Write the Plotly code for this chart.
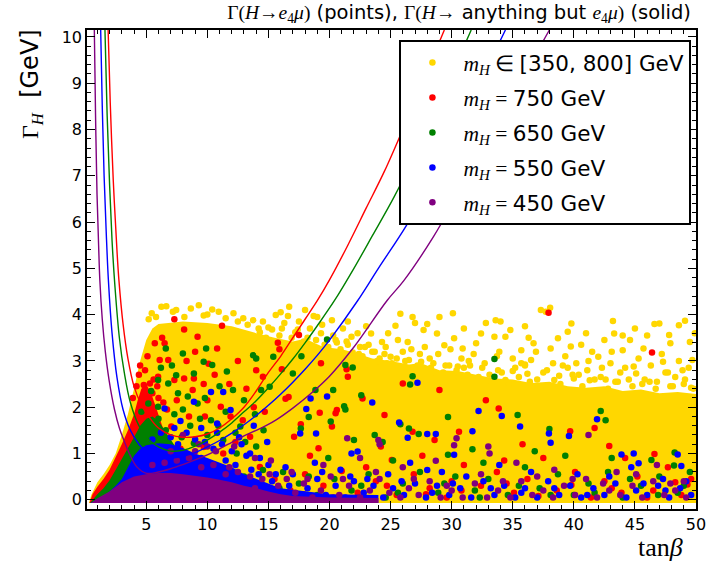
import plotly.graph_objects as go

# ---------------- data (tan(beta), Gamma_H [GeV]) ----------------
CURVE_RED = [(1.88,10.15),(2.05,8.6),(2.3,6.9),(2.6,5.4),(2.76,4.75),(3.1,3.8),(3.5,3.05),(4.0,2.45),
             (4.6,2.05),(5.2,1.8),(6.0,1.55),(7.0,1.4),(8.0,1.35),(9.0,1.36),(10.0,1.42),(11.0,1.55),
             (12.0,1.75),(13.0,2.0),(14.0,2.35),(15.0,2.75),(16.0,3.1),(17.0,3.5),(18.0,3.9),(19.0,4.3),
             (20.0,4.75),(21.5,5.5),(23.0,6.3),(24.5,7.1),(26.0,8.0),(27.5,8.95),(29.4,10.15)]
CURVE_GREEN = [(1.62,10.15),(1.8,8.3),(2.0,6.8),(2.2,5.6),(2.44,4.6),(2.8,3.5),(3.2,2.75),(3.7,2.1),
               (4.4,1.6),(5.2,1.3),(6.0,1.14),(7.0,1.05),(8.0,1.07),(9.0,1.16),(10.0,1.29),(11.0,1.46),
               (12.0,1.66),(13.0,1.9),(14.0,2.14),(15.0,2.42),(16.0,2.72),(17.0,3.04),(18.0,3.39),
               (19.0,3.76),(20.4,4.3),(22.0,5.0),(23.5,5.7),(25.3,6.55),(27.0,7.45),(29.0,8.6),(31.6,10.15)]
CURVE_BLUE = [(1.27,10.15),(1.4,8.5),(1.55,7.0),(1.72,5.8),(1.9,4.75),(2.2,3.6),(2.6,2.65),(3.1,1.95),
              (3.7,1.5),(4.4,1.2),(5.2,1.0),(6.0,0.92),(7.0,0.9),(8.0,0.94),(9.0,1.02),(10.0,1.14),
              (11.0,1.28),(12.0,1.44),(13.0,1.62),(14.0,1.82),(15.0,2.04),(16.0,2.28),(17.0,2.54),
              (18.0,2.82),(19.0,3.12),(20.0,3.45),(22.3,4.3),(24.0,5.0),(26.3,5.93),(28.0,6.75),
              (30.0,7.75),(32.0,8.85),(34.4,10.15)]
CURVE_PURPLE = [(0.75,10.15),(0.85,8.3),(0.97,6.6),(1.1,5.5),(1.2,4.75),(1.4,3.9),(1.65,3.2),(1.96,2.58),
                (2.4,1.95),(2.8,1.55),(3.16,1.29),(3.7,0.95),(4.23,0.71),(5.03,0.57),(6.0,0.6),(7.0,0.67),
                (8.0,0.76),(9.0,0.86),(10.0,0.97),(11.0,1.1),(12.0,1.24),(13.0,1.38),(14.0,1.5),
                (14.8,1.6),(15.6,1.72),(17.0,1.98),(18.5,2.3),(20.0,2.67),(22.0,3.3),(24.7,4.3),
                (26.1,4.74),(28.5,5.68),(30.5,6.6),(32.5,7.55),(34.5,8.5),(36.3,9.35),(38.0,10.15)]

# dense (solid-looking) regions of points, outlined as areas
AREA_YELLOW = [(0.3,-0.07),(0.5,0.1),(1.0,0.38),(1.5,0.55),(2.0,0.75),(2.5,1.0),(3.0,1.4),(3.5,1.85),
               (4.0,2.4),(4.5,3.0),(5.0,3.45),(5.5,3.7),(6.0,3.8),(8.0,3.85),(10.0,3.82),(12.0,3.75),
               (14.0,3.6),(15.5,3.5),(17.0,3.42),(18.0,3.48),(19.5,3.3),(21.0,3.25),(22.0,3.18),
               (23.5,3.05),(25.0,3.0),(26.5,2.92),(27.5,2.95),(29.0,2.8),(30.5,2.78),(32.0,2.7),
               (33.5,2.62),(35.0,2.6),(36.5,2.52),(38.0,2.55),(39.5,2.45),(41.0,2.42),(42.5,2.45),
               (44.0,2.35),(45.5,2.38),(47.0,2.3),(48.5,2.33),(50.2,2.28),(50.2,-0.07)]
AREA_RED = [(0.35,-0.07),(0.6,0.12),(1.0,0.28),(1.5,0.45),(2.0,0.65),(2.5,0.92),(3.0,1.2),(3.5,1.5),
            (4.0,1.85),(4.3,2.15),(4.6,2.4),(5.0,2.5),(5.4,2.3),(5.8,2.0),(6.3,1.6),(6.8,1.3),(7.0,-0.07)]
AREA_GREEN = [(0.4,-0.07),(1.0,0.12),(1.5,0.25),(2.0,0.42),(2.5,0.65),(3.0,0.88),(3.5,1.1),(4.0,1.35),
              (4.5,1.6),(5.0,1.75),(5.5,1.8),(6.0,1.7),(6.5,1.5),(7.0,1.3),(7.5,1.1),(7.5,-0.07)]
AREA_BLUE = [(0.45,-0.07),(1.5,0.08),(2.0,0.18),(2.5,0.3),(3.0,0.45),(3.5,0.7),(4.0,0.95),(4.5,1.1),
             (5.0,1.18),(6.0,1.22),(7.0,1.2),(8.0,1.12),(9.0,1.0),(10.0,0.9),(11.0,0.8),(12.0,0.7),
             (13.0,0.55),(14.0,0.45),(15.0,0.35),(16.0,0.25),(20.0,0.12),(24.0,0.1),(24.0,-0.07)]
AREA_PURPLE = [(0.5,-0.07),(1.0,0.03),(2.0,0.18),(3.0,0.38),(4.0,0.5),(5.0,0.55),(6.0,0.58),(7.0,0.58),
               (8.0,0.55),(9.0,0.52),(10.0,0.48),(11.0,0.43),(12.0,0.38),(13.0,0.3),(14.0,0.25),
               (15.0,0.18),(16.0,0.12),(17.0,0.08),(20.0,0.05),(24.0,0.04),(24.0,-0.07)]

# individual points
PTS_YELLOW = [(5.2,3.9),(5.45,4.03),(5.8,3.95),(6.24,4.17),(6.64,4.18),(7.18,4.06),(7.45,4.1),(8.12,3.95),
              (8.65,4.13),(9.3,4.2),(9.7,3.98),(10.0,4.0),(10.4,4.11),(10.93,4.06),(11.5,3.92),(12.14,4.03),
              (12.5,3.85),(12.94,3.92),(13.3,3.78),(13.75,3.88),(14.2,3.7),(14.55,3.85),(15.0,3.72),
              (15.6,3.99),(16.1,3.7),(16.6,3.97),(16.7,4.17),(17.2,3.62),(17.5,3.85),(18.2,3.5),(18.7,3.97),
              (19.3,3.6),(19.6,3.35),(20.2,3.88),(20.6,3.4),(21.1,3.7),(21.8,3.52),(22.4,3.15),(22.9,3.3),
              (23.4,3.59),(23.9,3.0),(24.3,3.41),(24.7,2.95),(25.0,3.09),(25.4,3.76),(25.8,4.02),(26.0,3.2),
              (26.4,3.41),(26.9,2.85),(27.0,3.82),(27.4,3.15),(27.7,3.67),(28.2,3.05),(28.6,2.75),(28.8,3.59),
              (29.4,3.34),(29.8,2.9),(30.1,4.03),(30.2,3.49),(30.6,2.65),(30.9,3.27),(31.4,3.0),(32.0,3.38),
              (32.4,3.59),(32.8,3.82),(33.1,2.7),(33.5,3.52),(33.6,3.88),(33.9,3.2),(34.4,3.52),(34.4,2.59),
              (34.8,3.67),(35.2,2.85),(35.7,3.23),(35.7,2.95),(36.5,3.02),(36.7,3.38),(37.0,2.6),(37.3,4.1),
              (37.7,4.06),(38.06,4.15),(38.1,3.27),(38.4,2.59),(38.7,3.49),(39.1,2.9),(39.5,3.63),(39.75,3.31),
              (39.8,3.81),(40.4,2.7),(41.1,2.8),(41.5,3.2),(42.0,3.09),(42.6,2.6),(43.0,2.95),(43.2,3.86),
              (43.3,3.59),(43.8,2.75),(44.0,3.23),(44.6,3.45),(45.1,2.73),(45.7,3.27),(46.2,2.55),(46.6,3.8),
              (47.0,3.81),(47.3,2.98),(47.8,3.56),(47.9,3.38),(48.3,2.65),(48.6,3.77),(48.9,2.8),(49.1,3.87),
              (49.5,3.41),(49.7,3.02),(32.5,2.85),(33.8,2.8),(35.0,2.78),(36.2,2.72),(37.5,2.75),(38.8,2.68),
              (40.0,2.62),(41.3,2.58),(42.2,2.65),(43.4,2.55),(44.5,2.6),(45.6,2.5),(46.8,2.55),(47.9,2.45),
              (49.0,2.5),(49.6,2.42),(31.5,2.9),(36.0,2.92),(39.5,2.85),(44.9,2.88),(47.5,2.75),(20.5,3.45),
              (21.5,3.35),(22.5,3.3),(23.5,3.2),(24.5,3.15),(25.5,3.05),(26.5,3.02),(27.5,2.98),(28.5,2.95),
              (29.5,2.9),(30.5,2.88),(31.0,2.85),
              (14.3,3.62),(14.8,3.5),(15.3,3.68),(15.9,3.55),(16.3,3.82),(16.9,3.5),(17.4,3.68),(17.9,3.42),
              (18.4,3.7),(18.9,3.45),(19.4,3.78),(19.9,3.3),(20.3,3.55),(20.9,3.25),(21.4,3.42),(21.9,3.18),
              (22.3,3.6),(22.7,3.1),(23.2,3.35),(23.7,3.2),(24.1,3.05),(24.6,3.3),(25.1,2.95),(25.6,3.45),
              (26.2,3.0),(26.7,3.25),(27.2,2.9),(27.8,3.3),(28.3,2.85),(28.9,3.15),(29.3,2.75),(29.9,3.25),
              (30.4,2.8),(30.8,3.05),(31.3,2.7),(31.8,3.15),(32.2,2.65),(32.7,2.95),(33.3,2.55),(33.7,3.1),
              (34.1,2.75),(34.7,2.5),(35.0,3.05),(35.5,2.65),(36.0,2.9),(36.4,2.55),(36.9,3.2),(37.3,2.45),
              (37.8,2.8),(38.3,2.95),(38.9,2.5),(39.3,3.1),(39.9,2.7),(40.2,2.95),(40.7,2.45),(41.2,3.0),
              (41.7,2.6),(42.3,2.85),(42.8,2.4),(43.1,3.2),(43.6,2.55),(44.2,2.85),(44.8,2.45),(45.3,3.05),
              (45.8,2.6),(46.3,2.9),(46.7,2.4),(47.2,3.15),(47.7,2.75),(48.1,2.45),(48.6,3.0),(49.1,2.6),
              (49.4,2.85),(49.8,2.4),
              (16.0,4.05),(18.0,4.1),(19.0,3.95),(21.5,3.85),(23.0,3.75),(24.8,3.6),(26.8,3.95),(28.0,3.8),
              (29.0,3.95),(31.0,3.7),(34.0,3.85),(36.0,3.75),(41.0,3.6),(42.5,3.45),(45.0,3.7),(46.0,3.55),
              (49.9,3.6),(44.0,3.55),(40.6,3.35),(36.3,3.5)]
PTS_RED = [(5.3,2.51),(4.8,2.48),(4.9,2.8),(5.7,3.38),(6.5,3.38),(6.1,3.02),(6.8,3.02),(5.97,2.66),(7.3,2.59),
           (8.1,2.62),(8.9,2.62),(7.3,3.9),(8.1,3.68),(9.2,3.52),(10.8,3.27),(11.2,3.76),(10.1,2.94),(8.8,2.37),
           (10.0,2.15),(11.1,2.01),(11.9,1.8),(8.5,1.8),(7.05,1.58),(5.7,1.72),(12.9,1.72),(13.5,1.36),
           (14.0,2.8),(14.55,2.66),(9.7,1.14),(11.3,1.0),(14.3,0.71),(12.1,0.43),(10.5,0.71),(8.1,0.6),
           (15.77,3.39),(15.9,3.25),(17.5,3.56),(19.3,2.95),(16.1,2.82),(21.4,2.82),(16.65,2.22),(16.4,2.18),
           (22.7,2.19),(21.5,2.66),(20.6,1.94),(20.5,1.87),(19.2,1.88),(17.65,1.63),(17.1,1.36),(19.1,1.11),
           (20.2,1.58),(24.5,1.83),(25.1,0.86),(26.8,1.47),(28.6,1.29),(29.0,2.37),(26.0,2.51),(30.6,1.47),
           (32.8,2.15),(33.85,1.97),(37.93,4.04),(39.7,1.48),(42.9,1.16),(44.2,0.9),(46.6,0.99),(46.4,3.18),
           (49.3,0.33),(13.2,0.25),(15.5,0.45),(16.8,0.2),(18.0,0.55),(19.5,0.3),(21.0,0.62),(22.3,0.15),
           (23.8,0.4),(25.5,0.1),(26.9,0.55),(28.2,0.25),(29.6,0.05),(31.0,0.75),(32.4,0.3),(33.7,0.6),
           (35.1,0.15),(36.2,0.45),(37.5,0.9),(38.6,0.2),(40.1,0.6),(41.4,0.05),(42.5,0.4),(43.9,0.15),
           (45.2,0.5),(46.5,0.2),(47.7,0.7),(48.8,0.1),(49.6,0.45),(35.8,1.2),(41.7,1.55),(34.3,0.85),
           (27.6,0.95),(24.2,1.15),(18.4,0.95),(23.0,0.7),(30.0,0.4),(4.5,2.9),(5.1,3.1),(5.5,2.3),(6.0,2.2),
           (6.7,1.95),(7.5,2.15),(8.3,3.0),(9.0,3.2),(9.7,2.5),(10.6,2.7),(11.8,2.5),(12.5,3.0),(13.2,2.4),
           (13.8,2.0),(14.7,1.9),(9.8,1.8),(12.3,1.25),(7.8,1.1),(6.3,3.5),(4.2,2.45),(4.4,2.7),(5.6,2.6),
           (5.9,2.45),(6.4,2.1),(3.9,2.2),(14.1,0.3),(17.9,0.12),(20.3,0.05),(24.7,0.3),(27.9,0.12),
           (30.8,0.2),(34.5,0.35),(37.1,0.08),(39.8,0.32),(43.1,0.25),(46.0,0.05),(48.3,0.38)]
PTS_GREEN = [(6.6,3.27),(8.0,3.16),(9.9,3.27),(9.7,2.98),(10.4,2.91),(8.9,2.73),(5.97,2.59),(6.8,2.51),
             (7.45,2.69),(13.75,3.12),(14.0,3.05),(11.6,2.77),(12.1,2.37),(14.4,2.37),(15.1,2.44),(5.17,2.08),
             (5.97,2.01),(7.6,2.3),(8.4,2.23),(9.2,2.08),(10.3,1.72),(12.7,1.58),(11.3,1.29),(8.9,1.22),
             (12.4,1.0),(14.0,1.15),(14.55,0.64),(10.5,0.75),(15.4,3.09),(17.7,3.1),(19.8,3.46),(17.0,2.73),
             (21.3,2.91),(21.9,2.86),(18.85,2.37),(20.3,2.37),(22.6,2.26),(21.2,2.02),(21.3,1.95),(18.3,1.79),
             (17.65,1.54),(20.1,1.69),(22.0,1.29),(23.7,1.4),(24.35,1.25),(25.8,1.63),(26.5,1.54),(27.3,1.42),
             (26.8,2.67),(26.6,2.49),(29.7,1.79),(29.7,0.97),(33.5,3.04),(33.5,2.66),(35.4,1.83),(38.0,1.53),
             (42.2,1.92),(42.6,1.72),(43.1,0.9),(46.35,0.86),(48.25,1.02),(48.2,0.74),(31.7,1.09),(13.0,0.5),
             (14.8,0.2),(16.2,0.6),(17.5,0.35),(19.0,0.1),(20.4,0.45),(21.8,0.2),(23.2,0.55),(24.6,0.05),
             (26.0,0.35),(27.4,0.6),(28.9,0.15),(30.3,0.5),(31.9,0.2),(33.0,0.45),(34.6,0.1),(36.0,0.7),
             (37.2,0.25),(38.7,0.55),(40.0,0.1),(41.2,0.35),(42.8,0.6),(44.0,0.05),(45.5,0.3),(47.0,0.5),
             (48.5,0.15),(49.5,0.6),(39.3,0.95),(36.8,1.05),(32.6,0.8),(25.2,0.85),(19.9,0.9),(4.6,1.9),
             (5.3,1.6),(6.0,1.75),(6.6,1.5),(7.3,1.85),(8.0,1.95),(8.6,1.6),(9.4,1.75),(10.0,1.4),(10.9,1.6),
             (11.5,1.9),(12.3,1.45),(13.1,1.25),(13.9,1.85),(14.6,1.5),(6.3,1.25),(7.9,1.35),(9.8,2.2),
             (11.0,2.45),(13.0,2.15),(5.4,2.35),(6.2,2.85),(7.1,2.9),(15.9,0.25),(18.3,0.5),(22.6,0.3),
             (25.6,0.15),(29.4,0.35),(32.3,0.05),(35.5,0.3),(38.1,0.1),(41.7,0.15),(44.6,0.45),(46.9,0.1),
             (49.0,0.3)]
PTS_BLUE = [(6.5,1.97),(8.9,2.12),(10.3,2.33),(11.3,2.33),(11.9,1.94),(7.8,1.7),(9.5,1.55),(10.8,1.45),
            (12.6,1.35),(13.8,1.6),(14.9,1.25),(13.2,0.95),(11.5,0.85),(14.2,0.55),(18.45,2.19),(19.8,2.23),
            (23.5,2.1),(18.1,1.96),(17.6,1.43),(18.9,1.43),(21.8,1.0),(22.3,1.04),(25.7,1.67),(26.4,1.34),
            (28.0,1.42),(28.7,1.42),(27.2,2.53),(30.2,0.97),(31.7,1.48),(28.0,0.64),(32.2,1.92),(34.1,1.81),
            (35.6,1.58),(37.96,1.43),(38.1,1.23),(39.6,1.38),(41.9,1.74),(43.9,0.98),(44.9,1.0),(45.3,0.79),
            (48.5,0.98),(48.8,0.73),(12.5,0.2),(13.5,0.35),(14.5,0.1),(15.3,0.4),(16.0,0.15),(16.7,0.3),
            (17.4,0.05),(18.2,0.25),(19.0,0.45),(19.7,0.1),(20.5,0.3),(21.3,0.05),(22.0,0.4),(22.8,0.15),
            (23.6,0.3),(24.4,0.05),(25.2,0.25),(26.1,0.1),(27.0,0.35),(27.9,0.05),(28.8,0.3),(29.8,0.1),
            (30.7,0.25),(31.6,0.05),(32.6,0.4),(33.5,0.1),(34.3,0.3),(35.2,0.05),(36.0,0.25),(37.0,0.05),
            (37.9,0.4),(38.8,0.1),(39.7,0.3),(40.6,0.05),(41.6,0.25),(42.5,0.1),(43.4,0.35),(44.3,0.05),
            (45.1,0.2),(46.0,0.1),(46.9,0.3),(47.8,0.05),(48.7,0.25),(49.6,0.1),(16.4,0.7),(20.9,0.65),
            (24.8,0.55),(29.2,0.6),(33.9,0.75),(36.5,0.6),(40.3,0.55),(44.7,0.7),(47.3,0.45),(18.8,0.8),
            (26.6,0.8),(31.2,0.5),(5.5,1.3),(6.2,1.45),(7.0,1.35),(7.6,1.2),(8.3,1.45),(9.0,1.3),(9.8,1.25),
            (10.5,1.1),(11.2,1.2),(12.0,1.05),(12.8,1.2),(13.5,1.0),(14.3,0.9),(15.0,0.75),(9.5,0.9),
            (12.3,0.75),(13.6,0.65),(15.6,0.55),(10.8,1.65),(7.3,1.55),(17.0,0.55),(19.4,0.6),(21.7,0.5),
            (23.1,0.45),(25.9,0.4),(28.4,0.15),(30.1,0.35),(33.2,0.25),(35.7,0.15),(38.4,0.25),(41.1,0.1),
            (42.9,0.5),(45.7,0.35),(47.5,0.2),(49.2,0.4)]
PTS_PURPLE = [(8.0,1.4),(9.3,1.2),(10.7,1.05),(12.2,1.15),(13.9,0.9),(11.8,0.7),(15.2,0.85),(21.45,1.33),
              (24.0,1.29),(24.1,1.2),(30.2,1.18),(30.4,1.33),(28.7,0.84),(33.0,1.15),(33.1,1.0),(41.2,1.4),
              (19.5,0.75),(22.5,0.9),(26.0,0.7),(35.3,0.8),(38.4,0.65),(43.5,0.6),(46.8,0.75),(49.0,0.4),
              (12.8,0.1),(13.9,0.25),(14.9,0.05),(15.8,0.3),(16.5,0.45),(17.2,0.15),(17.9,0.35),(18.6,0.05),
              (19.3,0.2),(20.1,0.5),(20.8,0.1),(21.6,0.3),(22.5,0.05),(23.3,0.2),(24.1,0.45),(24.9,0.15),
              (25.8,0.05),(26.5,0.25),(27.3,0.1),(28.2,0.4),(29.1,0.05),(30.0,0.2),(30.9,0.05),(31.9,0.35),
              (32.9,0.05),(33.8,0.2),(34.8,0.05),(35.7,0.4),(36.6,0.1),(37.5,0.2),(38.3,0.05),(39.2,0.3),
              (40.1,0.1),(41.0,0.45),(41.9,0.05),(42.9,0.2),(43.8,0.1),(44.8,0.3),(45.6,0.05),(46.5,0.4),
              (47.4,0.1),(48.3,0.2),(49.2,0.05),(5.5,0.75),(6.5,0.8),(7.5,0.85),(8.5,0.9),(9.5,0.7),
              (10.5,0.75),(11.5,0.55),(12.5,0.6),(13.5,0.5),(14.5,0.45),(7.0,1.05),(9.0,1.05),(10.0,1.15),
              (15.1,0.55),(16.9,0.6),(18.2,0.45),(21.1,0.45),(23.8,0.6),(26.9,0.45),(29.6,0.3),(32.4,0.55),
              (34.2,0.4),(37.0,0.5),(39.9,0.45),(42.4,0.35),(45.1,0.55),(47.9,0.35)]

C_YELLOW, C_RED, C_GREEN, C_BLUE, C_PURPLE = "#FFD700", "#FF0000", "#008000", "#0000FF", "#800080"

MATH = "font-family:'Liberation Serif'"
SANS = "font-family:'DejaVu Sans'"
def m(s):
    return f"<span style=\"{MATH}\">{s}</span>"
def s_(s):
    return f"<span style=\"{SANS}\">{s}</span>"

MH = "<i>m</i><sub><i>H</i></sub>"
NAMES = [m(MH + " ∈ ") + s_("[350, 800] GeV"),
         m(MH + " = ") + s_("750 GeV"),
         m(MH + " = ") + s_("650 GeV"),
         m(MH + " = ") + s_("550 GeV"),
         m(MH + " = ") + s_("450 GeV")]

fig = go.Figure()

def xs(p): return [a for a, _ in p]
def ys(p): return [b for _, b in p]

def add_area(p, c):
    fig.add_trace(go.Scatter(x=xs(p), y=ys(p), mode="lines", fill="toself", fillcolor=c,
                             line=dict(width=0, color=c), hoverinfo="skip", showlegend=False))

def add_pts(p, c, name, grp):
    fig.add_trace(go.Scatter(x=xs(p), y=ys(p), mode="markers", name=name, legendgroup=grp,
                             marker=dict(color=c, size=6.5, line=dict(width=0))))

for area, pts, c, nm, g in [(AREA_YELLOW, PTS_YELLOW, C_YELLOW, NAMES[0], "a"),
                            (AREA_RED, PTS_RED, C_RED, NAMES[1], "b"),
                            (AREA_GREEN, PTS_GREEN, C_GREEN, NAMES[2], "c"),
                            (AREA_BLUE, PTS_BLUE, C_BLUE, NAMES[3], "d"),
                            (AREA_PURPLE, PTS_PURPLE, C_PURPLE, NAMES[4], "e")]:
    add_area(area, c)
    add_pts(pts, c, nm, g)

for cv, c in [(CURVE_RED, C_RED), (CURVE_GREEN, C_GREEN), (CURVE_BLUE, C_BLUE), (CURVE_PURPLE, C_PURPLE)]:
    fig.add_trace(go.Scatter(x=xs(cv), y=ys(cv), mode="lines", line=dict(color=c, width=1.4, shape="spline"),
                             showlegend=False, hoverinfo="skip"))

axis_common = dict(showline=True, linecolor="black", linewidth=1.5, mirror="allticks", ticks="inside",
                   ticklen=8, tickwidth=1, tickcolor="black", showgrid=False, zeroline=False,
                   tickfont=dict(family="DejaVu Sans", size=16, color="black"))

fig.update_layout(
    width=716, height=570,
    margin=dict(l=87, r=10, t=30, b=61),
    paper_bgcolor="white", plot_bgcolor="white",
    font=dict(family="DejaVu Sans", color="black"),
    title=dict(text=m("Γ(<i>H</i>→<i>e</i><sub>4</sub><i>μ</i>)") + " (points), " + m("Γ(<i>H</i>→") +
               " anything but " + m("<i>e</i><sub>4</sub><i>μ</i>)") + " (solid)",
               x=0.611, xref="paper", xanchor="center", y=0.978, yanchor="middle",
               font=dict(size=19.5, family="DejaVu Sans", color="black")),
    xaxis=dict(range=[0.15, 50.0], tickvals=[5, 10, 15, 20, 25, 30, 35, 40, 45, 50],
               minor=dict(dtick=1, ticklen=4, ticks="inside", tickcolor="black"), **axis_common),
    yaxis=dict(range=[-0.2, 10.15], tickvals=list(range(0, 11)),
               minor=dict(dtick=0.2, ticklen=4, ticks="inside", tickcolor="black"), **axis_common),
    legend=dict(x=0.513, y=0.979, xanchor="left", yanchor="top", bgcolor="white",
                bordercolor="black", borderwidth=2, font=dict(size=21.5, family="DejaVu Sans"),
                traceorder="grouped", tracegroupgap=4, itemwidth=52),
    showlegend=True,
)

fig.add_annotation(text=m("Γ<sub><i>H</i></sub>") + "  [GeV]", xref="paper", yref="paper",
                   x=-0.092, y=0.887, textangle=-90, showarrow=False, xanchor="center", yanchor="middle",
                   font=dict(size=24, family="DejaVu Sans"))
fig.add_annotation(text=m("tan<i>β</i>"), xref="paper", yref="paper", x=0.942, y=-0.081,
                   showarrow=False, xanchor="center", yanchor="middle",
                   font=dict(size=26, family="DejaVu Sans"))

fig.write_html("out.html")
